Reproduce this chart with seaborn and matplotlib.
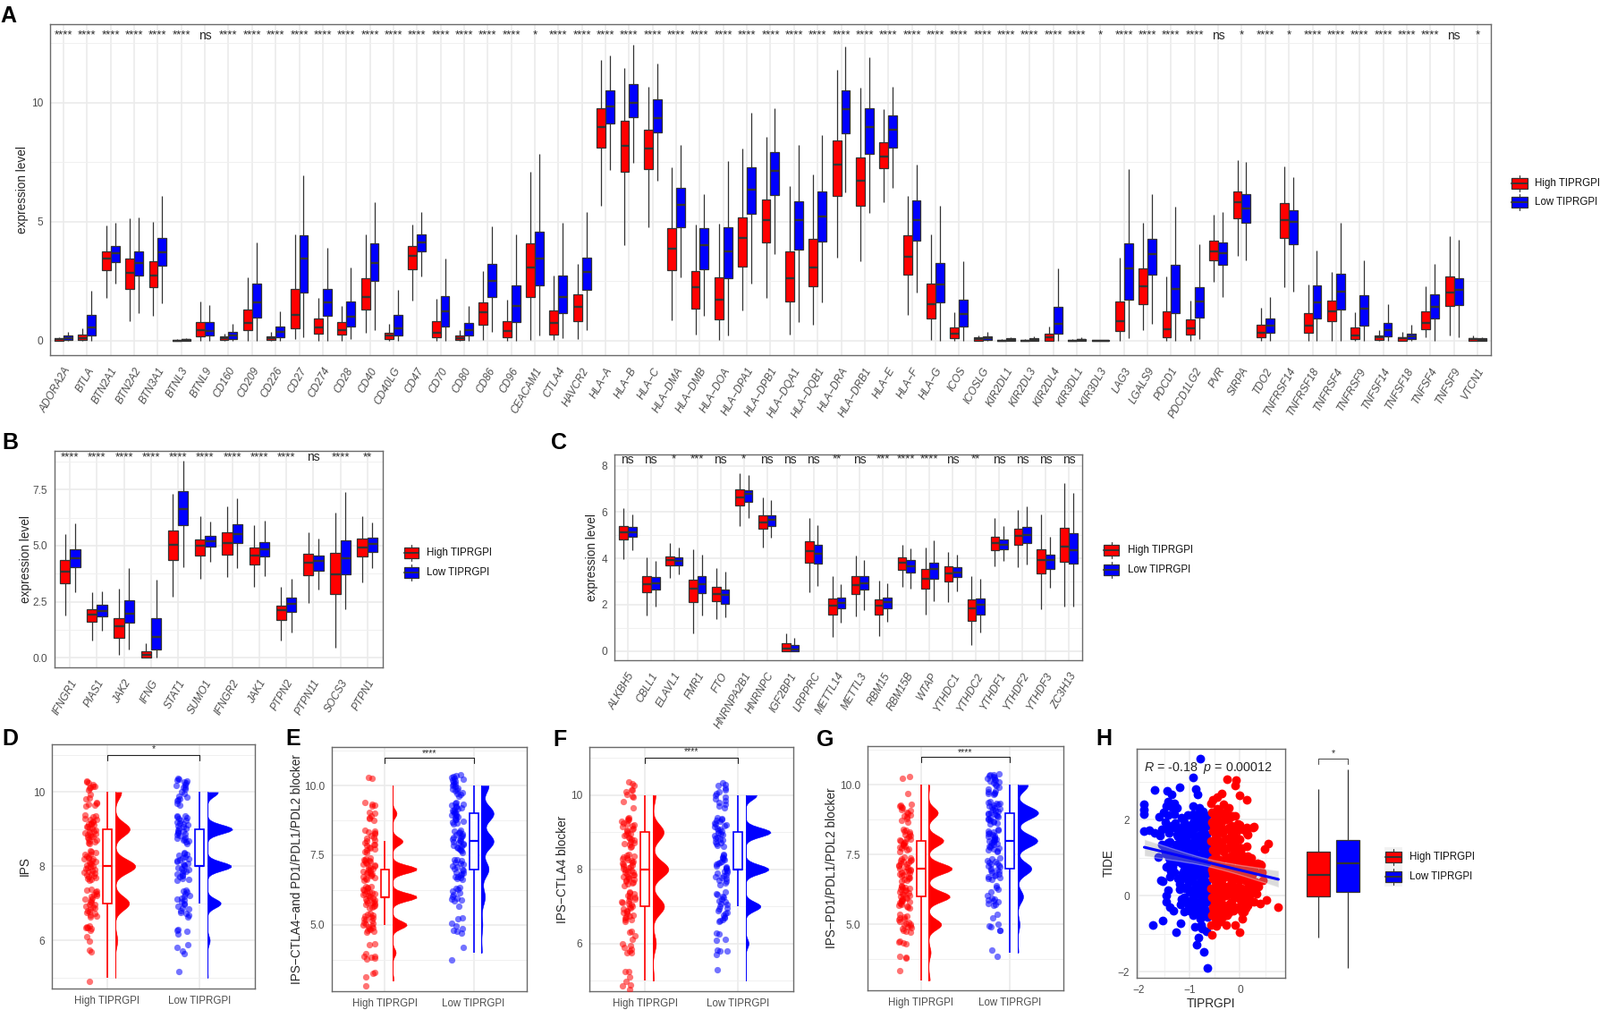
import numpy as np
import pandas as pd
import seaborn as sns
import matplotlib
matplotlib.use("Agg")
import matplotlib.pyplot as plt

W, H = 1789, 1129
RED, BLUE = "#ff0000", "#0000ff"
GROUPS = ["High TIPRGPI", "Low TIPRGPI"]

# every box row is whisker low, q1, median, q3, whisker high
genes_a = ["ADORA2A", "BTLA", "BTN2A1", "BTN2A2", "BTN3A1", "BTNL3", "BTNL9", "CD160", "CD209", "CD226", "CD27",
           "CD274", "CD28", "CD40", "CD40LG", "CD47", "CD70", "CD80", "CD86", "CD96", "CEACAM1", "CTLA4", "HAVCR2",
           "HLA−A", "HLA−B", "HLA−C", "HLA−DMA", "HLA−DMB", "HLA−DOA", "HLA−DPA1", "HLA−DPB1", "HLA−DQA1",
           "HLA−DQB1", "HLA−DRA", "HLA−DRB1", "HLA−E", "HLA−F", "HLA−G", "ICOS", "ICOSLG", "KIR2DL1", "KIR2DL3",
           "KIR2DL4", "KIR3DL1", "KIR3DL3", "LAG3", "LGALS9", "PDCD1", "PDCD1LG2", "PVR", "SIRPA", "TDO2",
           "TNFRSF14", "TNFRSF18", "TNFRSF4", "TNFRSF9", "TNFSF14", "TNFSF18", "TNFSF4", "TNFSF9", "VTCN1"]
sig_a = ["****"] * 6 + ["ns"] + ["****"] * 13 + ["*"] + ["****"] * 23 + ["*"] + ["****"] * 4 + ["ns", "*", "****", "*"] + \
        ["****"] * 6 + ["ns", "*"]
high_a = [[0, 0, .05, .08, .14], [0, .02, .12, .24, .5], [1.78, 2.95, 3.44, 3.76, 4.83], [.83, 2.18, 2.85, 3.44, 5.14],
          [1.03, 2.26, 2.72, 3.35, 4.98], [0, 0, .01, .03, .06], [0, .19, .43, .78, 1.63], [0, .03, .1, .18, .3],
          [0, .43, .75, 1.32, 2.66], [0, .03, .1, .19, .38], [.05, .53, 1.08, 2.18, 4.48], [0, .3, .55, .93, 1.78],
          [0, .25, .46, .78, 1.44], [.34, 1.29, 1.84, 2.63, 4.47], [0, .05, .21, .34, .72], [1.69, 3.01, 3.58, 3.96, 4.88],
          [0, .15, .34, .82, 1.74], [0, .03, .11, .2, .43], [.03, .65, 1.18, 1.61, 2.94], [0, .15, .4, .8, 1.72],
          [.03, 1.82, 3.06, 4.08, 7.09], [.03, .24, .75, 1.28, 2.72], [.08, .8, 1.41, 1.94, 3.24],
          [5.67, 8.11, 8.97, 9.75, 11.8], [4.02, 7.11, 8.18, 9.23, 11.46], [4.77, 7.2, 8.06, 8.86, 10.68],
          [.87, 2.95, 3.88, 4.71, 7.28], [.25, 1.34, 2.25, 2.91, 4.88], [.03, .9, 1.72, 2.66, 4.92],
          [1.28, 3.12, 4.33, 5.17, 8.08], [1.78, 4.12, 5.06, 5.95, 8.56], [.25, 1.66, 2.63, 3.75, 6.51],
          [.68, 2.28, 3.06, 4.27, 6.99], [3.5, 6.1, 7.4, 8.41, 11.37], [3.35, 5.65, 6.71, 7.7, 10.64],
          [5.81, 7.24, 7.75, 8.32, 9.71], [1.09, 2.76, 3.54, 4.42, 6.1], [.03, .93, 1.53, 2.38, 4.48],
          [0, .1, .28, .55, 1.18], [0, 0, .06, .13, .21], [0, 0, .01, .03, .06], [0, 0, .01, .04, .08],
          [0, .01, .14, .28, .61], [0, 0, .01, .04, .08], [0, 0, 0, .02, .03], [0, .39, .83, 1.66, 3.48],
          [.44, 1.53, 2.28, 3.02, 4.96], [0, .15, .48, 1.24, 2.69], [0, .26, .53, .9, 1.68], [2.47, 3.39, 3.76, 4.19, 5.29],
          [3.58, 5.16, 5.82, 6.26, 7.58], [0, .15, .34, .68, 1.37], [2.26, 4.33, 5.08, 5.77, 7.33], [0, .34, .63, 1.15, 2.35],
          [0, .82, 1.23, 1.67, 2.89], [0, .06, .21, .54, 1.19], [0, .03, .13, .23, .46], [0, .01, .09, .16, .36],
          [.13, .48, .73, 1.22, 2.28], [.21, 1.46, 2.01, 2.7, 4.38], [0, 0, .05, .1, .21]]
low_a = [[0, .03, .1, .2, .36], [0, .23, .55, 1.08, 2.1], [2.38, 3.29, 3.66, 3.96, 4.94], [1.15, 2.72, 3.26, 3.76, 5.17],
         [1.56, 3.16, 3.73, 4.33, 6.08], [0, 0, .03, .06, .1], [0, .2, .4, .78, 1.48], [0, .08, .2, .38, .72],
         [0, .97, 1.59, 2.38, 4.13], [0, .15, .38, .61, 1.23], [.15, 2.03, 3.46, 4.42, 6.95], [0, 1.03, 1.62, 2.18, 3.89],
         [.08, .61, 1.0, 1.64, 3.07], [.43, 2.51, 3.26, 4.09, 5.82], [0, .23, .53, 1.08, 2.13], [2.71, 3.75, 4.13, 4.47, 5.42],
         [0, .61, 1.22, 1.88, 3.45], [0, .23, .45, .74, 1.44], [.38, 1.84, 2.52, 3.21, 4.82], [0, .78, 1.46, 2.31, 4.48],
         [.21, 2.31, 3.45, 4.57, 7.84], [.11, 1.15, 1.82, 2.75, 4.94], [.43, 2.12, 2.89, 3.48, 5.4],
         [7.18, 9.13, 9.84, 10.5, 11.98], [7.49, 9.4, 10.0, 10.78, 12.42], [6.71, 8.75, 9.37, 10.14, 11.63],
         [2.66, 4.78, 5.71, 6.41, 8.24], [1.05, 3.01, 4.0, 4.73, 6.15], [.21, 2.63, 3.76, 4.76, 7.55],
         [2.41, 5.33, 6.36, 7.3, 9.59], [3.64, 6.11, 7.14, 7.93, 9.77], [.78, 3.81, 5.07, 5.86, 8.22],
         [1.62, 4.18, 5.21, 6.26, 8.65], [6.22, 8.71, 9.72, 10.53, 12.36], [5.37, 7.85, 8.97, 9.76, 11.91],
         [6.41, 8.11, 8.85, 9.47, 10.68], [2.03, 4.22, 5.07, 5.88, 7.39], [0, 1.61, 2.35, 3.25, 5.67],
         [0, .59, 1.13, 1.73, 3.34], [0, .03, .1, .19, .36], [0, 0, .04, .09, .16], [0, 0, .04, .09, .17],
         [.01, .28, .69, 1.41, 3.04], [0, 0, .04, .08, .15], [0, 0, 0, .02, .03], [.11, 1.72, 3.02, 4.08, 7.2],
         [.72, 2.79, 3.64, 4.29, 6.16], [0, 1.14, 2.16, 3.2, 5.63], [.06, .97, 1.64, 2.25, 4.04], [1.84, 3.19, 3.69, 4.14, 5.41],
         [3.39, 4.96, 5.55, 6.16, 7.52], [0, .33, .63, .95, 1.83], [2.06, 4.07, 4.98, 5.48, 6.86], [0, .92, 1.59, 2.33, 3.78],
         [0, 1.32, 2.06, 2.8, 4.97], [0, .63, 1.36, 1.92, 3.36], [0, .18, .43, .75, 1.52], [0, .06, .18, .31, .65],
         [0, .94, 1.43, 1.96, 3.22], [.15, 1.48, 2.13, 2.63, 4.23], [0, 0, .04, .09, .13]]

genes_b = ["IFNGR1", "PIAS1", "JAK2", "IFNG", "STAT1", "SUMO1", "IFNGR2", "JAK1", "PTPN2", "PTPN11", "SOCS3", "PTPN1"]
sig_b = ["****"] * 9 + ["ns", "****", "**"]
high_b = [[1.9, 3.34, 3.86, 4.36, 5.51], [.77, 1.59, 1.92, 2.17, 2.92], [.12, .89, 1.41, 1.78, 3.1], [0, 0, .12, .28, .63],
          [2.74, 4.38, 5.04, 5.66, 7.33], [3.54, 4.54, 4.98, 5.28, 6.3], [3.61, 4.61, 5.13, 5.59, 6.74],
          [3.18, 4.16, 4.57, 4.92, 5.93], [.76, 1.67, 2.12, 2.34, 3.17], [2.45, 3.69, 4.26, 4.62, 5.59],
          [.45, 2.86, 3.74, 4.66, 6.47], [3.36, 4.5, 4.93, 5.31, 6.31]]
low_b = [[2.94, 4.06, 4.44, 4.85, 5.99], [1.2, 1.84, 2.08, 2.36, 2.96], [.37, 1.56, 1.97, 2.57, 4.02], [0, .37, .92, 1.76, 3.48],
         [4.05, 5.93, 6.65, 7.43, 8.8], [4.3, 4.94, 5.2, 5.45, 6.06], [4.02, 5.12, 5.53, 5.94, 7.13],
         [3.66, 4.5, 4.85, 5.17, 6.11], [1.11, 2.04, 2.41, 2.69, 3.54], [3.05, 3.9, 4.32, 4.56, 5.32],
         [2.16, 3.73, 4.45, 5.22, 7.39], [4.0, 4.73, 5.06, 5.36, 6.05]]

genes_c = ["ALKBH5", "CBLL1", "ELAVL1", "FMR1", "FTO", "HNRNPA2B1", "HNRNPC", "IGF2BP1", "LRPPRC", "METTL14", "METTL3",
           "RBM15", "RBM15B", "WTAP", "YTHDC1", "YTHDC2", "YTHDF1", "YTHDF2", "YTHDF3", "ZC3H13"]
sig_c = ["ns", "ns", "*", "***", "ns", "*", "ns", "ns", "ns", "**", "ns", "***", "****", "****", "ns", "**", "ns", "ns", "ns", "ns"]
high_c = [[3.95, 4.8, 5.13, 5.41, 6.16], [1.53, 2.53, 2.89, 3.25, 4.06], [3.15, 3.7, 3.92, 4.1, 4.66], [.75, 2.1, 2.68, 3.06, 4.39],
          [1.38, 2.14, 2.46, 2.78, 3.6], [5.38, 6.28, 6.65, 6.98, 7.68], [4.48, 5.29, 5.57, 5.87, 6.64], [0, 0, .1, .33, .75],
          [2.52, 3.83, 4.31, 4.75, 5.74], [.59, 1.56, 1.97, 2.26, 3.22], [1.5, 2.47, 2.84, 3.24, 4.13], [.66, 1.58, 1.97, 2.24, 3.05],
          [2.78, 3.52, 3.82, 4.06, 4.6], [1.58, 2.71, 3.11, 3.54, 4.46], [2.12, 3.02, 3.36, 3.65, 4.27], [.27, 1.32, 1.84, 2.21, 3.25],
          [3.64, 4.35, 4.67, 4.93, 5.76], [3.63, 4.6, 4.99, 5.29, 6.11], [1.8, 3.34, 3.94, 4.4, 5.9], [1.9, 3.85, 4.51, 5.31, 7.25]]
low_c = [[4.35, 4.93, 5.14, 5.36, 5.89], [1.9, 2.65, 2.93, 3.19, 3.9], [3.31, 3.68, 3.88, 4.03, 4.46], [1.54, 2.48, 2.87, 3.22, 4.18],
         [1.45, 2.05, 2.43, 2.66, 3.41], [5.76, 6.46, 6.78, 6.96, 7.6], [4.9, 5.39, 5.66, 5.87, 6.53], [0, 0, .06, .24, .57],
         [2.8, 3.79, 4.19, 4.57, 5.44], [1.23, 1.84, 2.07, 2.32, 2.87], [1.77, 2.64, 2.92, 3.22, 3.94], [1.26, 1.84, 2.11, 2.3, 2.91],
         [2.7, 3.4, 3.65, 3.91, 4.45], [2.15, 3.11, 3.54, 3.82, 4.78], [2.59, 3.19, 3.4, 3.63, 4.18], [.8, 1.58, 1.99, 2.25, 3.1],
         [3.88, 4.39, 4.6, 4.8, 5.38], [3.74, 4.66, 5.03, 5.34, 6.26], [2.74, 3.55, 3.91, 4.18, 4.95], [1.9, 3.77, 4.37, 5.07, 6.83]]

# ips scores are whole numbers, counts per score from 3 to 10
ips_levels = [3, 4, 5, 6, 7, 8, 9, 10]
d_high_counts = [0, 0, 1, 8, 50, 72, 52, 22]
d_low_counts = [0, 0, 1, 5, 28, 50, 52, 22]
e_high_counts = [3, 8, 35, 60, 60, 25, 10, 1]
e_low_counts = [0, 3, 5, 15, 30, 50, 50, 30]
f_high_counts = [0, 0, 5, 14, 52, 72, 50, 12]
f_low_counts = [0, 0, 1, 6, 30, 46, 50, 22]
g_high_counts = [3, 5, 30, 50, 55, 35, 22, 2]
g_low_counts = [0, 2, 5, 14, 35, 50, 52, 26]

# the jittered dots as they sit on the y axis
d_high_pts = [10.3, 10.27, 10.24, 10.21, 10.16, 10.15, 10.13, 10.11, 10.07, 9.95, 9.85, 9.81, 9.72, 9.7, 9.68, 9.66, 9.63,
              9.38, 9.35, 9.33, 9.29, 9.27, 9.26, 9.22, 9.2, 9.17, 9.15, 9.13, 9.11, 9.08, 9.06, 9.03, 9.01, 8.97, 8.95, 8.93, 8.9, 8.88,
              8.86, 8.84, 8.81, 8.8, 8.77, 8.74, 8.71, 8.69, 8.66, 8.63, 8.6,
              8.41, 8.39, 8.36, 8.33, 8.31, 8.28, 8.26, 8.23, 8.21, 8.19, 8.16, 8.13, 8.11, 8.09, 8.06, 8.03, 8.01, 7.98, 7.96, 7.94, 7.91,
              7.88, 7.86, 7.84, 7.81, 7.79, 7.77, 7.75, 7.72, 7.69, 7.67, 7.64, 7.61,
              7.38, 7.35, 7.32, 7.3, 7.27, 7.24, 7.21, 7.19, 7.15, 7.12, 7.09, 7.05, 7.02, 6.98, 6.96, 6.93, 6.9, 6.87, 6.84, 6.81, 6.78,
              6.75, 6.72, 6.68, 6.65, 6.62, 6.38, 6.36, 6.35, 6.33, 6.32, 6.27, 6.1, 5.99, 5.75, 5.68, 4.9]
d_low_pts = [10.37, 10.35, 10.32, 10.3, 10.27, 10.25, 10.2, 10.17, 10.14, 10.12, 10.09, 10.02, 9.97, 9.9, 9.87, 9.82, 9.8, 9.77, 9.7, 9.65,
             9.37, 9.35, 9.34, 9.31, 9.28, 9.25, 9.23, 9.2, 9.17, 9.14, 9.12, 9.09, 9.06, 9.03, 9.01, 8.97, 8.95, 8.92, 8.89, 8.87,
             8.85, 8.82, 8.79, 8.76, 8.74, 8.71, 8.68, 8.65, 8.62,
             8.37, 8.35, 8.32, 8.29, 8.26, 8.23, 8.2, 8.18, 8.15, 8.12, 8.09, 8.06, 8.03, 8.0, 7.97, 7.94, 7.92, 7.89, 7.86, 7.83, 7.8,
             7.77, 7.74, 7.71, 7.68, 7.65, 7.62,
             7.35, 7.33, 7.3, 7.26, 7.22, 7.19, 7.15, 7.12, 7.08, 7.04, 7.0, 6.97, 6.92, 6.88, 6.84, 6.8, 6.75, 6.72, 6.67, 6.62,
             6.3, 6.28, 6.24, 6.18, 5.88, 5.8, 5.72, 5.65, 5.16]
e_high_pts = [10.3, 10.28, 9.38, 9.34, 9.3, 9.26, 9.05, 9.0, 8.9, 8.86, 8.82, 8.75,
              8.41, 8.38, 8.34, 8.3, 8.26, 8.2, 8.15, 8.1, 8.05, 8.0, 7.95, 7.9, 7.88, 7.84, 7.8, 7.76, 7.72, 7.68, 7.64, 7.6,
              7.4, 7.38, 7.35, 7.32, 7.3, 7.27, 7.24, 7.2, 7.18, 7.14, 7.11, 7.08, 7.05, 7.02, 6.99, 6.96, 6.93, 6.9, 6.87, 6.84, 6.81, 6.78,
              6.75, 6.72, 6.69, 6.66, 6.63, 6.6,
              6.38, 6.36, 6.33, 6.31, 6.28, 6.25, 6.22, 6.19, 6.16, 6.13, 6.1, 6.07, 6.04, 6.01, 5.98, 5.95, 5.92, 5.89, 5.86, 5.83,
              5.8, 5.78, 5.75, 5.72, 5.69, 5.66, 5.63, 5.6,
              5.4, 5.37, 5.33, 5.3, 5.27, 5.24, 5.2, 5.17, 5.14, 5.1, 5.07, 5.03, 5.0, 4.97, 4.94, 4.9, 4.87, 4.83, 4.8, 4.77, 4.72,
              4.3, 4.28, 3.97, 3.88, 3.85, 3.82, 3.8, 3.77, 3.3, 3.25, 3.12, 2.8]
e_low_pts = [10.4, 10.37, 10.34, 10.3, 10.27, 10.23, 10.2, 10.16, 10.12, 10.08, 10.04, 10.0, 9.96, 9.92, 9.88, 9.84, 9.8, 9.76, 9.71, 9.67, 9.62,
             9.38, 9.35, 9.33, 9.3, 9.27, 9.24, 9.2, 9.17, 9.14, 9.1, 9.07, 9.04, 9.0, 8.97, 8.94, 8.9, 8.87, 8.84, 8.8, 8.77, 8.73, 8.69, 8.65, 8.61,
             8.4, 8.37, 8.34, 8.31, 8.28, 8.25, 8.22, 8.18, 8.15, 8.12, 8.09, 8.05, 8.02, 7.99, 7.96, 7.93, 7.89, 7.86, 7.83, 7.79, 7.76, 7.72, 7.69, 7.65, 7.61,
             7.35, 7.33, 7.29, 7.24, 7.2, 7.17, 7.12, 7.08, 7.03, 7.0, 6.95, 6.9, 6.86, 6.82, 6.78, 6.74, 6.72, 6.68, 6.66, 6.63,
             6.35, 6.32, 6.28, 6.22, 6.15, 6.08, 6.03, 5.95, 5.92, 5.88, 5.85, 5.68,
             5.25, 5.2, 5.05, 4.97, 4.85, 4.8, 4.75, 4.7, 4.18, 3.75]
f_high_pts = [10.37, 10.3, 10.27, 10.15, 10.13, 10.1, 10.03, 9.98, 9.95, 9.83, 9.67,
              9.4, 9.38, 9.35, 9.32, 9.29, 9.26, 9.23, 9.2, 9.17, 9.14, 9.11, 9.08, 9.05, 9.02, 8.99, 8.96, 8.93, 8.9, 8.87, 8.84, 8.81, 8.78, 8.75,
              8.72, 8.69, 8.66, 8.63, 8.6,
              8.4, 8.38, 8.36, 8.33, 8.31, 8.29, 8.26, 8.24, 8.21, 8.19, 8.17, 8.14, 8.12, 8.1, 8.07, 8.05, 8.02, 8.0, 7.98, 7.95, 7.93, 7.91, 7.88,
              7.86, 7.84, 7.81, 7.79, 7.77, 7.74, 7.72, 7.7, 7.67, 7.65, 7.62, 7.6, 7.57,
              7.38, 7.36, 7.33, 7.3, 7.28, 7.25, 7.22, 7.19, 7.16, 7.13, 7.1, 7.07, 7.04, 7.01, 6.98, 6.95, 6.92, 6.89, 6.86, 6.83, 6.8, 6.77, 6.74,
              6.71, 6.68, 6.65, 6.63, 6.6, 6.33, 6.3, 6.2, 6.1, 6.0, 5.95, 5.9, 5.85, 5.8, 5.75, 5.74, 5.25, 5.23, 5.1, 4.97, 4.88, 4.85, 4.75]
f_low_pts = [10.33, 10.28, 10.25, 10.2, 10.15, 10.1, 10.05, 10.0, 9.95, 9.9, 9.85, 9.8, 9.75, 9.7, 9.67,
             9.4, 9.37, 9.35, 9.32, 9.29, 9.26, 9.23, 9.2, 9.17, 9.14, 9.11, 9.08, 9.05, 9.02, 8.99, 8.96, 8.93, 8.9, 8.87, 8.84, 8.81, 8.78, 8.75, 8.72, 8.69, 8.65, 8.61,
             8.4, 8.37, 8.34, 8.31, 8.28, 8.25, 8.22, 8.19, 8.16, 8.13, 8.1, 8.07, 8.04, 8.01, 7.98, 7.95, 7.92, 7.89, 7.86, 7.83, 7.8, 7.77, 7.74, 7.71, 7.67, 7.63, 7.59,
             7.38, 7.35, 7.31, 7.28, 7.24, 7.2, 7.16, 7.12, 7.08, 7.04, 7.0, 6.96, 6.92, 6.88, 6.84, 6.8, 6.76, 6.72, 6.68, 6.65, 6.62, 6.6,
             6.28, 6.25, 6.12, 6.08, 5.83, 5.8, 5.79, 5.7, 5.28]
g_high_pts = [10.3, 10.25, 9.7, 9.3, 9.28, 9.25, 9.2, 9.17, 9.13, 9.08, 9.03, 8.98, 8.92, 8.88, 8.85, 8.8, 8.72, 8.65,
              8.4, 8.37, 8.33, 8.3, 8.26, 8.22, 8.18, 8.14, 8.1, 8.07, 8.04, 8.0, 7.97, 7.93, 7.9, 7.87, 7.84, 7.8, 7.77, 7.74, 7.7, 7.66, 7.62,
              7.4, 7.38, 7.35, 7.33, 7.3, 7.28, 7.25, 7.22, 7.19, 7.16, 7.13, 7.1, 7.07, 7.04, 7.01, 6.98, 6.95, 6.92, 6.89, 6.86, 6.83, 6.8, 6.77,
              6.74, 6.71, 6.68, 6.65, 6.62, 6.59, 6.55,
              6.4, 6.37, 6.34, 6.31, 6.28, 6.25, 6.22, 6.19, 6.16, 6.13, 6.1, 6.07, 6.04, 6.01, 5.98, 5.95, 5.92, 5.89, 5.86, 5.83, 5.8, 5.77, 5.74, 5.71, 5.68, 5.65, 5.62, 5.6,
              5.35, 5.3, 5.27, 5.23, 5.2, 5.16, 5.12, 5.08, 5.04, 5.0, 4.97, 4.94, 4.9, 4.87, 4.84, 4.8, 4.77, 4.72, 4.4, 4.38, 4.35, 4.3, 3.85, 3.82, 3.78, 3.35]
g_low_pts = [10.4, 10.38, 10.35, 10.33, 10.3, 10.28, 10.25, 10.22, 10.18, 10.14, 10.1, 10.06, 10.02, 9.97, 9.92, 9.85, 9.8, 9.75, 9.72, 9.7, 9.68, 9.65,
             9.4, 9.37, 9.35, 9.33, 9.3, 9.27, 9.24, 9.21, 9.18, 9.15, 9.12, 9.09, 9.06, 9.03, 9.0, 8.97, 8.94, 8.91, 8.88, 8.85, 8.82, 8.79, 8.76, 8.73, 8.7, 8.67, 8.64, 8.61,
             8.4, 8.37, 8.34, 8.31, 8.28, 8.25, 8.22, 8.19, 8.16, 8.13, 8.1, 8.07, 8.04, 8.01, 7.98, 7.95, 7.92, 7.89, 7.86, 7.83, 7.8, 7.77, 7.74, 7.71, 7.68, 7.65, 7.62,
             7.38, 7.34, 7.3, 7.27, 7.23, 7.19, 7.15, 7.12, 7.08, 7.05, 7.01, 6.97, 6.93, 6.9, 6.86, 6.82, 6.78, 6.75, 6.72, 6.68, 6.64, 6.6,
             6.38, 6.32, 6.25, 6.15, 6.05, 5.95, 5.92, 5.88, 5.84, 5.8, 5.76, 5.72, 5.68, 5.35, 5.25, 5.02, 4.95, 4.9, 4.8, 4.78, 4.08, 3.85]

# panel H scatter, read blob by blob
h_blue_x = [-.79, -.935, -1.69, -1.435, -1.35, -1.19, -.88, -.835, -1.89, -1.89, -1.89, -1.42, -1.45, -1.3, -1.25, -1.33, -1.6, -1.51,
            -1.42, -1.48, -1.42, -1.3, -1.89, -1.8, -1.69, -1.58, -.92, -.81, -1.16, -1.04, -.92, -.81, -.69, -1.57, -1.52, -1.42, -1.45,
            -1.45, -1.39, -1.32, -1.19, -1.16, -1.17, -1.07, -1.11, -1.73, -1.53, -1.17, -1.26, -.89, -.76, -.75, -.66, -.82, -.86, -.72, -.64,
            -1.29, -1.39, -1.33, -1.45, -1.62, -1.55, -1.38, -1.22, -1.27, -1.33, -1.18, -1.21, -1.12,
            -.66, -.64, -.67, -.65, -.63, -.66, -.64, -.67, -.65, -.63, -.66, -.64,
            -.76, -.74, -.77, -.73, -.75, -.78, -.74, -.76, -.73, -.77, -.75, -.74,
            -.85, -.87, -.84, -.86, -.83, -.88, -.85, -.86, -.84, -.87, -.85,
            -.95, -.97, -.94, -.96, -.93, -.98, -.95, -.94, -.97, -.96,
            -1.05, -1.07, -1.04, -1.06, -1.03, -1.08, -1.05, -1.02,
            -1.15, -1.18, -1.14, -1.16, -1.13, -1.2,
            -.7, -.71, -.69, -.7, -.72, -.68, -.71, -.7, -.69, -.72, -.7,
            -.8, -.82, -.79, -.81, -.78, -.8, -.83, -.79, -.81, -.8, -.82, -.78,
            -.9, -.92, -.89, -.91, -.88, -.9, -.93, -.89, -.91, -.9, -.92,
            -1.0, -1.01, -.99, -1.02, -.98, -1.0, -1.01, -.99, -1.02, -1.0,
            -1.1, -1.12, -1.09, -1.11, -1.08, -1.1, -1.13, -1.09, -1.1,
            -1.25, -1.27, -1.24, -1.26, -1.23, -1.4, -1.42, -1.38, -1.41, -1.39, -1.36, -1.55, -1.5, -1.47, -1.3, -1.28, -1.22, -1.35]
h_blue_y = [3.62, 3.12, 2.78, 2.77, 2.66, 2.85, 2.81, 2.67, 2.42, 2.28, 2.15, 2.48, 2.36, 2.44, 2.32, 2.32, 2.07, 2.19,
            2.12, 1.93, 1.81, 1.79, 1.71, 1.73, 1.65, 1.59, 2.36, 2.32, 2.05, 2.12, 2.16, 2.2, 2.12, .41, .39, .14, 0,
            -.16, -.3, -.39, .17, -.08, -.22, -.16, -.41, -.76, -.66, -.72, -.97, -.81, -.76, -.86, -.94, -1.1, -1.3, -1.48, -1.89,
            .63, .51, .75, .75, 1.02, 1.35, 1.42, 1.55, 1.28, 1.08, 1.3, .95, 1.62,
            2.1, 1.85, 1.6, 1.35, 1.1, .85, .6, .35, .1, -.15, -.4, -.55,
            1.95, 1.7, 1.45, 1.2, .95, .7, .45, .2, -.05, -.3, -.5, 2.22,
            2.05, 1.8, 1.55, 1.3, 1.05, .8, .55, .3, .05, -.2, -.45,
            1.9, 1.65, 1.4, 1.15, .9, .65, .4, .15, -.1, -.35,
            1.75, 1.5, 1.25, 1.0, .75, .5, .25, -.28,
            1.8, 1.42, 1.1, .85, .6, .32,
            2.0, 1.75, 1.5, 1.25, 1.0, .75, .5, .25, 0, -.25, -.45,
            2.1, 1.85, 1.6, 1.35, 1.1, .85, .6, .35, .1, -.15, -.4, -.6,
            1.98, 1.72, 1.48, 1.22, .98, .72, .48, .22, -.02, -.28, -.5,
            1.85, 1.6, 1.35, 1.1, .85, .6, .35, .1, -.15, -.4,
            1.95, 1.7, 1.45, 1.2, .95, .7, .45, .2, -.05,
            1.6, 1.35, 1.15, .9, .45, 1.65, 1.4, 1.2, 1.0, .85, .65, 1.75, 1.28, 1.12, 2.15, 1.92, 1.75, 1.85]
h_red_x = [.76, .4, .52, .11, .05, .05, -.01, -.1, -.28, -.37, -.46, -.57, -.55, .31, .14, .43, .4, -.25, -.07, -.1, -.01, .13, -.36, -.45,
           -.54, -.57, .55, .48, .27, .13, .14, -.01, -.1, -.22, -.33, -.42,
           -.55, -.56, -.54, -.57, -.53, -.55, -.56, -.54, -.57, -.55, -.53, -.56,
           -.45, -.47, -.44, -.46, -.43, -.48, -.45, -.46, -.44, -.47, -.43, -.45,
           -.35, -.37, -.34, -.36, -.33, -.38, -.35, -.36, -.34, -.37, -.33, -.35,
           -.25, -.27, -.24, -.26, -.23, -.28, -.25, -.26, -.24, -.27, -.23, -.25,
           -.15, -.17, -.14, -.16, -.13, -.18, -.15, -.16, -.14, -.17, -.13,
           -.05, -.07, -.04, -.06, -.03, -.08, -.05, -.06, -.04,
           .05, .03, .06, .04, .07, .02, .05,
           .15, .13, .16, .14, .17, .12,
           .25, .23, .26, .24, .22, .35, .33,
           -.5, -.52, -.49, -.51, -.48, -.5, -.53, -.49, -.51, -.5, -.52, -.48,
           -.4, -.42, -.39, -.41, -.38, -.4, -.43, -.39, -.41, -.4, -.42, -.38,
           -.3, -.32, -.29, -.31, -.28, -.3, -.33, -.29, -.31, -.3, -.32,
           -.2, -.22, -.19, -.21, -.18, -.2, -.23, -.19, -.21, -.2, -.22,
           -.1, -.12, -.09, -.11, -.08, -.1, -.13, -.09, -.11,
           0, .01, -.02, .02, -.01, 0, .01, -.02,
           .1, .11, .09, .12, .08, .1, .2, .21, .19, .22, .18, .3, .31, .42, .08, .16, .28, .37, .45]
h_red_y = [-.3, -.2, -.12, -.33, -.43, -.6, -.97, -.76, -.76, -.67, -.79, -.76, -1.04, .19, .2, .63, .83, 3.07, 3.04, 2.91, 2.64, 2.52, 2.69, 2.6,
           2.52, 2.44, 1.38, 1.24, 1.83, 1.65, 1.79, 1.87, 2.11, 2.32, 2.4, 2.24,
           2.2, 1.95, 1.7, 1.45, 1.2, .95, .7, .45, .2, -.05, -.3, -.5,
           2.3, 2.05, 1.8, 1.55, 1.3, 1.05, .8, .55, .3, .05, -.2, -.45,
           2.15, 1.9, 1.65, 1.4, 1.15, .9, .65, .4, .15, -.1, -.35, -.55,
           2.25, 2.0, 1.75, 1.5, 1.25, 1.0, .75, .5, .25, 0, -.25, -.5,
           2.1, 1.85, 1.6, 1.35, 1.1, .85, .6, .35, .1, -.15, -.4,
           1.9, 1.65, 1.3, 1.0, .75, .5, .25, 0, -.3,
           1.75, 1.25, 1.05, .8, .55, .2, -.05,
           1.6, 1.3, 1.05, .7, .3, 0,
           1.8, 1.0, .75, .55, .15, .85, .05,
           2.1, 1.85, 1.6, 1.35, 1.1, .85, .6, .35, .1, -.15, -.4, -.6,
           2.2, 1.95, 1.7, 1.45, 1.2, .95, .7, .45, .2, -.05, -.3, -.55,
           2.0, 1.75, 1.5, 1.25, 1.0, .75, .5, .25, 0, -.25, -.5,
           2.05, 1.8, 1.55, 1.3, 1.05, .8, .55, .3, .05, -.2, -.45,
           1.7, 1.45, 1.2, .95, .7, .45, .2, -.05, -.3,
           1.5, 1.15, .9, .65, .4, .15, -.1, -.35,
           .9, .6, .4, .15, -.1, -.2, .85, .45, .25, .05, -.1, .65, .35, .8, -.42, -.25, -.15, .25, .4]
h_high_box = [-1.1, -.01, .55, 1.16, 2.82]
h_low_box = [-1.9, .1, .85, 1.46, 3.34]

# half width and bandwidth of each half violin, high then low
rain_shape = {"IPS": [(.218, .17), (.27, .11)],
              "IPS−CTLA4−and PD1/PDL1/PDL2 blocker": [(.27, .11), (.14, .2)],
              "IPS−CTLA4 blocker": [(.167, .19), (.27, .11)],
              "IPS−PD1/PDL1/PDL2 blocker": [(.26, .13), (.23, .16)]}


def px_axes(fig, left, top, right, bottom):
    return fig.add_axes([left / W, 1 - bottom / H, (right - left) / W, (bottom - top) / H])


def style_axes(ax, xlim, ylim, y_major, y_minor, x_minor=None):
    ax.set_xlim(*xlim)
    ax.set_ylim(*ylim)
    ax.set_yticks(y_major)
    ax.set_yticks(y_minor, minor=True)
    if x_minor is not None:
        ax.set_xticks(x_minor, minor=True)
    ax.set_axisbelow(True)
    ax.grid(True, which="major", color="#ebebeb", lw=1.2)
    ax.grid(True, which="minor", color="#f0f0f0", lw=.7)
    ax.tick_params(which="minor", length=0)
    ax.tick_params(which="major", color="#555555", labelcolor="#4d4d4d", length=3.5, width=.8, labelsize=8.6, pad=2)
    for spine in ax.spines.values():
        spine.set_visible(True)
        spine.set_color("#6a6a6a")
        spine.set_linewidth(1.0)


def long_table(names, high, low):
    rows = []
    for name, h_row, l_row in zip(names, high, low):
        rows += [(name, GROUPS[0], v) for v in h_row]
        rows += [(name, GROUPS[1], v) for v in l_row]
    return pd.DataFrame(rows, columns=["gene", "group", "value"])


def gene_panel(ax, names, high, low, sig, ylim, y_major, y_minor, star_y, ns_y, label_x):
    sns.boxplot(data=long_table(names, high, low), x="gene", y="value", hue="group", hue_order=GROUPS,
                palette=[RED, BLUE], saturation=1, width=.75, gap=0, whis=(0, 100), showcaps=False,
                linecolor="#333333", linewidth=.9, medianprops={"linewidth": 1.7}, legend=False, ax=ax)
    style_axes(ax, (-.57, len(names) - .43), ylim, y_major, y_minor)
    ax.set_xlabel("")
    ax.set_xticks(range(len(names)))
    ax.set_xticklabels(names, rotation=60, ha="right", rotation_mode="anchor", style="italic", fontsize=8.6)
    ax.tick_params(axis="x", pad=5)
    ax.set_ylabel("expression level", fontsize=9.8)
    ax.yaxis.set_label_coords(label_x, .5)
    for i, s in enumerate(sig):
        if s == "ns":
            ax.text(i, ns_y, s, ha="center", va="center", fontsize=10)
        else:
            ax.text(i, star_y, s, ha="center", va="center", fontsize=9.5)


def rain_group(ax, pos, pts, counts, color, half_width, bw):
    scores = np.repeat(ips_levels, counts)
    sns.stripplot(x=np.full(len(pts), pos - .18), y=pts, native_scale=True, orient="x", color=color, alpha=.55,
                  size=5.2, jitter=.07, linewidth=0, ax=ax)
    edge = pos + .085
    before = len(ax.collections)
    sns.violinplot(x=np.full(len(scores), edge), y=scores, native_scale=True, orient="x", color=color, saturation=1,
                   density_norm="width", width=2 * half_width, inner=None, cut=0, bw_method=bw, linewidth=.4,
                   linecolor=color, ax=ax)
    # keep only the right half of the violin
    for coll in ax.collections[before:]:
        coll.set_clip_path(plt.Rectangle((edge, 0), 2, 20, transform=ax.transData))
    ax.plot([edge, edge], [scores.min(), scores.max()], color=color, lw=.6)
    sns.boxplot(x=np.full(len(scores), pos), y=scores, native_scale=True, orient="x", color="white", saturation=1,
                linecolor=color, width=.1, linewidth=1.2, showfliers=False, showcaps=False,
                medianprops={"linewidth": 1.6}, ax=ax)


def rain_panel(ax, high, low, ylabel, sig, ylim, y_major, y_minor, label_x):
    high_shape, low_shape = rain_shape[ylabel]
    rain_group(ax, 1, *high, RED, *high_shape)
    rain_group(ax, 2, *low, BLUE, *low_shape)
    style_axes(ax, (.4, 2.6), ylim, y_major, y_minor)
    ax.set_xticks([1, 2])
    ax.set_xticklabels(GROUPS, fontsize=8.3)
    ax.set_xlabel("")
    ax.set_ylabel(ylabel, fontsize=9.8)
    ax.yaxis.set_label_coords(label_x, .5)
    tip = 11.0 - (ylim[1] - ylim[0]) * .022
    ax.plot([1, 1, 2, 2], [tip, 11.0, 11.0, tip], color="#222222", lw=.8)
    ax.text(1.5, 11.17, sig, ha="center", va="center", fontsize=7.5)


def legend_keys(ov, x0, x1, centers, text_x, grey=False):
    for cy, color, label in zip(centers, [RED, BLUE], GROUPS):
        if grey:
            ov.add_patch(plt.Rectangle((x0 - 1, cy - 11), x1 - x0 + 2, 22, color="#f2f2f2", lw=0))
        ov.plot([(x0 + x1) / 2] * 2, [cy - 9, cy + 9], color="#333333", lw=.8)
        ov.add_patch(plt.Rectangle((x0, cy - 6), x1 - x0, 12, facecolor=color, edgecolor="#333333", lw=.9, zorder=3))
        ov.plot([x0, x1], [cy, cy], color="#333333", lw=1.4, zorder=4)
        ov.text(text_x, cy, label, ha="left", va="center", fontsize=8.3, color="#111111")


def main():
    sns.set_theme(style="white")
    plt.rcParams["font.family"] = ["Liberation Sans", "DejaVu Sans"]
    plt.rcParams["mathtext.fontset"] = "custom"
    plt.rcParams["mathtext.it"] = "Liberation Sans:italic"
    plt.rcParams["mathtext.rm"] = "Liberation Sans"

    fig = plt.figure(figsize=(W / 100, H / 100), dpi=100)

    ax_a = px_axes(fig, 56, 27, 1667, 397)
    gene_panel(ax_a, genes_a, high_a, low_a, sig_a, (-.61, 13.3), [0, 5, 10], [2.5, 7.5, 12.5], 12.85, 12.82, -.0149)
    ax_b = px_axes(fig, 61, 504, 428, 746)
    gene_panel(ax_b, genes_b, high_b, low_b, sig_b, (-.43, 9.23), [0, 2.5, 5, 7.5], [1.25, 3.75, 6.25, 8.75], 8.95, 8.94, -.068)
    ax_b.set_yticklabels(["0.0", "2.5", "5.0", "7.5"])
    ax_c = px_axes(fig, 687, 508, 1210, 738)
    gene_panel(ax_c, genes_c, high_c, low_c, sig_c, (-.4, 8.49), [0, 2, 4, 6, 8], [1, 3, 5, 7], 8.28, 8.27, -.034)

    ax_d = px_axes(fig, 58, 832, 285, 1105)
    rain_panel(ax_d, (d_high_pts, d_high_counts), (d_low_pts, d_low_counts), "IPS", "*",
               (4.7, 11.29), [6, 8, 10], [5, 7, 9, 11], -.101)
    ax_e = px_axes(fig, 371, 835, 589, 1108)
    rain_panel(ax_e, (e_high_pts, e_high_counts), (e_low_pts, e_low_counts), "IPS−CTLA4−and PD1/PDL1/PDL2 blocker", "****",
               (2.61, 11.39), [5, 7.5, 10], [3.75, 6.25, 8.75, 11.25], -.147)
    ax_e.set_yticklabels(["5.0", "7.5", "10.0"])
    ax_f = px_axes(fig, 659, 835, 887, 1108)
    rain_panel(ax_f, (f_high_pts, f_high_counts), (f_low_pts, f_low_counts), "IPS−CTLA4 blocker", "****",
               (4.71, 11.3), [6, 8, 10], [5, 7, 9, 11], -.10)
    ax_g = px_axes(fig, 970, 834, 1189, 1107)
    rain_panel(ax_g, (g_high_pts, g_high_counts), (g_low_pts, g_low_counts), "IPS−PD1/PDL1/PDL2 blocker", "****",
               (2.64, 11.39), [5, 7.5, 10], [3.75, 6.25, 8.75, 11.25], -.15)
    ax_g.set_yticklabels(["5.0", "7.5", "10.0"])

    ax_h = px_axes(fig, 1271, 837, 1437, 1093)
    sns.scatterplot(x=h_blue_x, y=h_blue_y, color=BLUE, s=50, linewidth=0, ax=ax_h)
    sns.scatterplot(x=h_red_x, y=h_red_y, color=RED, s=50, linewidth=0, ax=ax_h)
    sns.regplot(x=h_blue_x + h_red_x, y=h_blue_y + h_red_y, scatter=False, color=BLUE, line_kws={"lw": 2.2}, ax=ax_h)
    band = ax_h.collections[-1]
    band.set_facecolor("#999999")
    band.set_alpha(.35)
    style_axes(ax_h, (-2.04, .894), (-2.16, 3.87), [-2, 0, 2], [-1, 1, 3], [-1.5, -.5, .5])
    ax_h.set_xticks([-2, -1, 0])
    ax_h.set_xlabel("TIPRGPI", fontsize=9.8)
    ax_h.xaxis.set_label_coords(.5, -.085)
    ax_h.set_ylabel("TIDE", fontsize=9.8)
    ax_h.yaxis.set_label_coords(-.145, .5)
    ax_h.text(-1.9, 3.37, r"$\mathit{R}$ = -0.18  $\mathit{p}$ = 0.00012", ha="left", va="center", fontsize=10.3)

    side = pd.DataFrame({"group": [GROUPS[0]] * 5 + [GROUPS[1]] * 5, "value": h_high_box + h_low_box})
    ax_s = px_axes(fig, 1441, 837, 1540, 1093)
    sns.boxplot(data=side, x="group", y="value", hue="group", palette=[RED, BLUE], saturation=1, width=.76, whis=(0, 100),
                showcaps=False, linecolor="#333333", linewidth=.9, medianprops={"linewidth": 1.6}, legend=False, ax=ax_s)
    ax_s.set_xlim(-1, 2)
    ax_s.set_ylim(-2.16, 3.87)
    ax_s.axis("off")
    ax_s.plot([0, 0, 1, 1], [3.46, 3.61, 3.61, 3.46], color="#555555", lw=.8, clip_on=False)
    ax_s.text(.5, 3.76, "*", ha="center", va="center", fontsize=7.5, clip_on=False)

    # overlay in pixels for the legends and panel letters
    ov = fig.add_axes([0, 0, 1, 1], zorder=10)
    ov.set_xlim(0, W)
    ov.set_ylim(H, 0)
    ov.axis("off")
    legend_keys(ov, 1690, 1708, [205, 226], 1716)
    legend_keys(ov, 452, 468, [618, 640], 477)
    legend_keys(ov, 1234, 1251, [615, 637], 1261)
    legend_keys(ov, 1549, 1567, [958, 980], 1576, grey=True)
    for letter, x, y in [("A", 0, 25), ("B", 2, 502), ("C", 616, 502), ("D", 2, 833), ("E", 319, 833),
                         ("F", 618, 834), ("G", 913, 834), ("H", 1225, 833)]:
        ov.text(x, y, letter, ha="left", va="baseline", fontsize=18, fontweight="bold", color="black")

    fig.savefig("out.png", dpi=100)


if __name__ == "__main__":
    main()
